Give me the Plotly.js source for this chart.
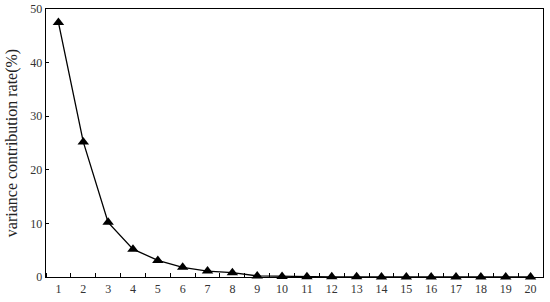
<!DOCTYPE html>
<html>
<head>
<meta charset="utf-8">
<script src="https://cdn.plot.ly/plotly-3.0.1.min.js"></script>
<style>
  html, body { margin: 0; padding: 0; background: #fff; }
  #chart { width: 550px; height: 302px; }
</style>
</head>
<body>
<div id="chart"></div>
<script>
// principal components and their variance contribution (%)
var components = [1, 2, 3, 4, 5, 6, 7, 8, 9, 10, 11, 12, 13, 14, 15, 16, 17, 18, 19, 20];
var contribution = [47.5, 25.2, 10.2, 5.2, 3.1, 1.8, 1.1, 0.8, 0.2, 0.1, 0.05, 0.04, 0.03, 0.02, 0.02, 0.01, 0.01, 0.01, 0.01, 0.01];
var yTicks = [0, 10, 20, 30, 40, 50];

var data = [{
    x: components,
    y: contribution,
    mode: "lines+markers",
    line: { color: "#000", width: 1.3 },
    marker: { symbol: "triangle-up", size: 10, color: "#000" },
    cliponaxis: false
}];

var layout = {
    width: 550,
    height: 302,
    margin: { l: 46, r: 7, t: 9, b: 25 },
    paper_bgcolor: "#fff",
    plot_bgcolor: "#fff",
    showlegend: false,
    font: { family: "Liberation Serif, Times New Roman, serif", color: "#333", size: 12 },
    xaxis: {
        range: [0.5, 20.5],
        tickmode: "array",
        tickvals: components,
        ticks: "",
        showgrid: false,
        zeroline: false,
        showline: true,
        linecolor: "#000",
        linewidth: 1.3,
        mirror: true,
        tickfont: { size: 12 },
        minor: { tickmode: "linear", tick0: 0.5, dtick: 1, ticks: "inside", ticklen: 4, tickcolor: "#000", showgrid: false }
    },
    yaxis: {
        range: [0, 50],
        tickmode: "array",
        tickvals: yTicks,
        ticks: "inside",
        ticklen: 3,
        tickcolor: "#000",
        showgrid: false,
        zeroline: false,
        showline: true,
        linecolor: "#000",
        linewidth: 1.3,
        mirror: true,
        tickfont: { size: 12 },
        title: { text: "variance contribution rate(%)", font: { size: 16, color: "#222" }, standoff: 8 }
    }
};

Plotly.newPlot("chart", data, layout, { displayModeBar: false, staticPlot: true });
</script>
</body>
</html>
